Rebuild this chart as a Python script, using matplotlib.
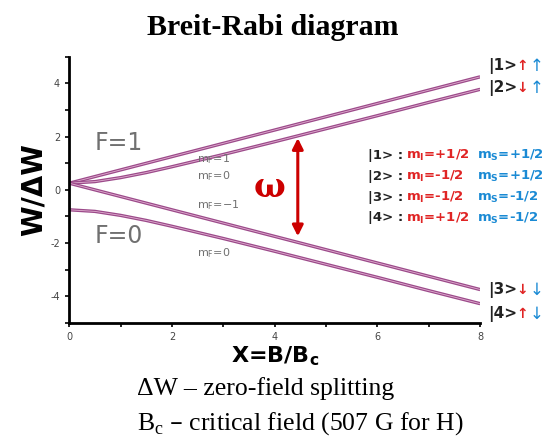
import matplotlib.pyplot as plt
from matplotlib.ticker import MultipleLocator

plt.rcParams['axes.unicode_minus'] = False

# values
x_pts = [0, 0.5, 1, 1.5, 2, 3, 4, 5, 6, 7, 8]
f1_mf1 = [0.25, 0.50, 0.75, 1.00, 1.25, 1.75, 2.25, 2.75, 3.25, 3.75, 4.25]
f1_mf0 = [0.25, 0.31, 0.46, 0.65, 0.87, 1.33, 1.81, 2.30, 2.79, 3.29, 3.78]
f1_mfm1 = [0.25, 0.00, -0.25, -0.50, -0.75, -1.25, -1.75, -2.25, -2.75, -3.25, -3.75]
f0_mf0 = [-0.75, -0.81, -0.96, -1.15, -1.37, -1.83, -2.31, -2.80, -3.29, -3.79, -4.28]

x_ticks = [0, 2, 4, 6, 8]
y_ticks = [-4, -2, 0, 2, 4]

arrow_x = 4.45
arrow_y = [2.05, -1.85]

kets = ['|1>', '|2>', '|3>', '|4>']
mi_labels = ['+1/2', '-1/2', '-1/2', '+1/2']
ms_labels = ['+1/2', '+1/2', '-1/2', '-1/2']
nuc_arrows = ['\u2191', '\u2193', '\u2193', '\u2191']
el_arrows = ['\u2191', '\u2191', '\u2193', '\u2193']

RED = '#e02424'
BLUE = '#1a8ad4'
PURPLE = '#9c4a8a'
GRAY = '#707070'

fig = plt.figure(figsize=(5.45, 4.41), dpi=100)
ax = fig.add_axes([0.127, 0.268, 0.754, 0.603])

for ys in [f1_mf1, f1_mf0, f1_mfm1, f0_mf0]:
    ax.plot(x_pts, ys, color=PURPLE, lw=2.4, solid_capstyle='butt')
    ax.plot(x_pts, ys, color='#e0b0d0', lw=0.6)

ax.set_xlim(0, 8)
ax.set_ylim(-5, 5)
ax.set_xticks(x_ticks)
ax.set_yticks(y_ticks)
ax.xaxis.set_minor_locator(MultipleLocator(1))
ax.yaxis.set_minor_locator(MultipleLocator(1))
ax.tick_params(which='both', direction='out', length=3, width=1.2, labelsize=7, labelcolor='#444444')
ax.spines['top'].set_visible(False)
ax.spines['right'].set_visible(False)
ax.spines['left'].set_linewidth(2)
ax.spines['bottom'].set_linewidth(2)

ax.set_xlabel('X=B/B$_\\mathregular{c}$', fontsize=16, fontweight='bold', labelpad=2)
ax.set_ylabel('W/\u0394W', fontsize=20, fontweight='bold', labelpad=2)

# energy level labels
ax.text(0.5, 1.75, 'F=1', fontsize=17, color=GRAY, va='center')
ax.text(0.5, -1.75, 'F=0', fontsize=17, color=GRAY, va='center')
ax.text(2.48, 1.05, 'm$_\\mathregular{F}$=1', fontsize=8, color=GRAY)
ax.text(2.48, 0.4, 'm$_\\mathregular{F}$=0', fontsize=8, color=GRAY)
ax.text(2.48, -0.7, 'm$_\\mathregular{F}$=\u22121', fontsize=8, color=GRAY)
ax.text(2.48, -2.5, 'm$_\\mathregular{F}$=0', fontsize=8, color=GRAY)

# transition arrow
ax.annotate('', xy=(arrow_x, arrow_y[0]), xytext=(arrow_x, arrow_y[1]),
            arrowprops=dict(arrowstyle='<|-|>', color='#cc0000', lw=2.2, mutation_scale=16))
ax.text(3.9, 0.1, '\u03c9', fontsize=24, color='#cc0000', fontweight='bold',
        family='DejaVu Serif', ha='center', va='center')

# title and notes
fig.text(0.5, 0.921, 'Breit-Rabi diagram', ha='center', va='baseline', fontsize=21.5,
         fontweight='bold', family='Liberation Serif')
fig.text(0.251, 0.104, '\u0394W \u2013 zero-field splitting', fontsize=18.5,
         family='Liberation Serif', va='baseline')
fig.text(0.251, 0.025, 'B$_\\mathregular{c}$ \u2013 critical field (507 G for H)', fontsize=18.5,
         family='Liberation Serif', va='baseline')

# state key
row_y = [155, 176, 197, 218]
for i in range(4):
    yf = 1 - row_y[i] / 441
    fig.text(0.675, yf, kets[i] + ' : ', fontsize=9.5, fontweight='bold', color='#222222', va='center')
    fig.text(0.745, yf, 'm$_\\mathregular{I}$=' + mi_labels[i], fontsize=9.5, fontweight='bold', color=RED, va='center')
    fig.text(0.875, yf, 'm$_\\mathregular{S}$=' + ms_labels[i], fontsize=9.5, fontweight='bold', color=BLUE, va='center')

# ket labels at right ends
side_y = [66, 88, 290, 314]
for i in range(4):
    yf = 1 - side_y[i] / 441
    fig.text(0.895, yf, kets[i], fontsize=11, fontweight='bold', color='#222222', va='center')
    fig.text(0.958, yf, nuc_arrows[i], fontsize=10, fontweight='bold', color=RED, va='center', ha='center')
    fig.text(0.985, yf, el_arrows[i], fontsize=12, color=BLUE, va='center', ha='center')

fig.savefig('out.png', dpi=100)
